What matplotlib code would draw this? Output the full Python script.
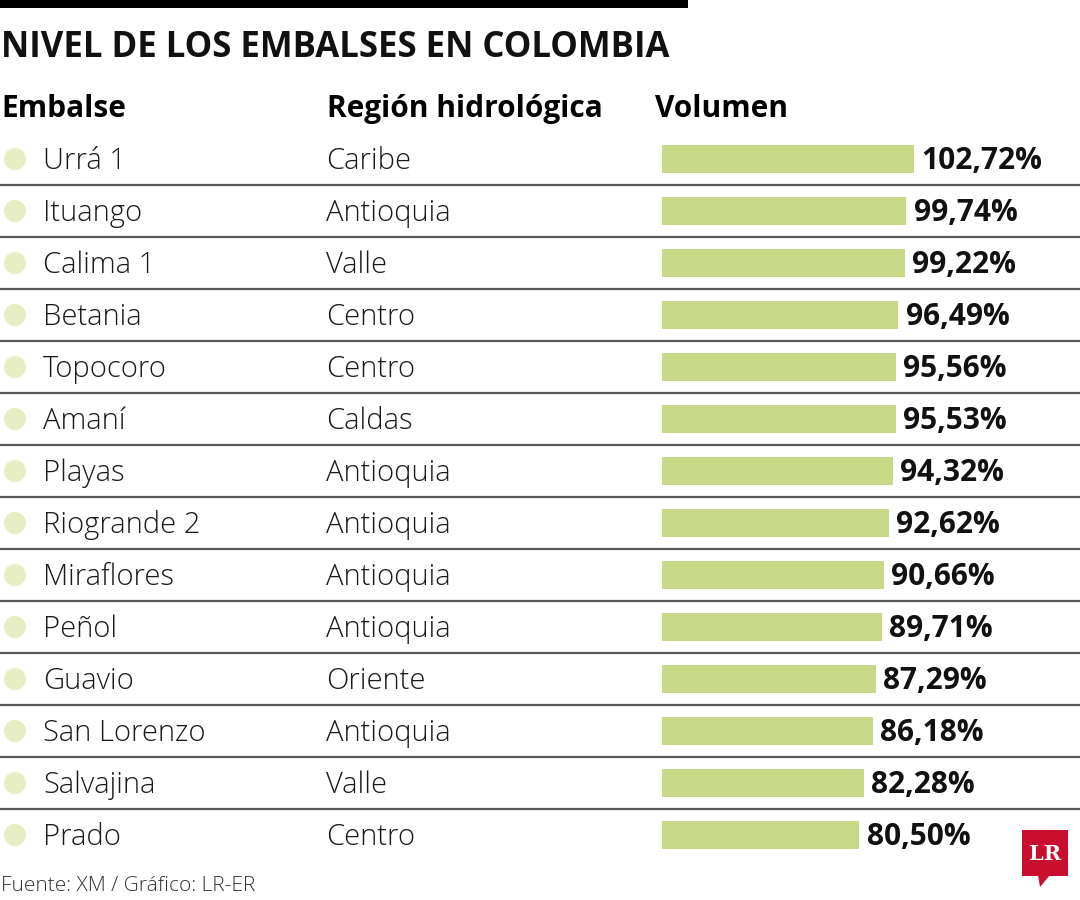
import matplotlib.pyplot as plt
from matplotlib.patches import Rectangle, Circle, Polygon

embalses = ["Urrá 1", "Ituango", "Calima 1", "Betania", "Topocoro", "Amaní", "Playas",
            "Riogrande 2", "Miraflores", "Peñol", "Guavio", "San Lorenzo", "Salvajina", "Prado"]
regiones = ["Caribe", "Antioquia", "Valle", "Centro", "Centro", "Caldas", "Antioquia",
            "Antioquia", "Antioquia", "Antioquia", "Oriente", "Antioquia", "Valle", "Centro"]
volumen = [102.72, 99.74, 99.22, 96.49, 95.56, 95.53, 94.32,
           92.62, 90.66, 89.71, 87.29, 86.18, 82.28, 80.50]

plt.rcParams['font.family'] = ['Open Sans', 'DejaVu Sans']

W, H = 1080, 900
fig = plt.figure(figsize=(W / 100, H / 100), dpi=100)
fig.patch.set_facecolor('white')

# main axes in pixel coordinates, for text and rules
ax = fig.add_axes([0, 0, 1, 1])
ax.set_xlim(0, W)
ax.set_ylim(H, 0)
ax.axis('off')

# top black rule
ax.add_patch(Rectangle((0, 0), 688, 8, color='black', lw=0))

ax.text(1, 48, "NIVEL DE LOS EMBALSES EN COLOMBIA", fontsize=25, fontweight='bold',
        va='center', ha='left', color='#111111')

hdr_y = 109
ax.text(1, hdr_y, "Embalse", fontsize=21.5, fontweight='bold', va='center')
ax.text(327, hdr_y, "Región hidrológica", fontsize=21.5, fontweight='bold', va='center')
ax.text(655, hdr_y, "Volumen", fontsize=21.5, fontweight='bold', va='center')

row0, step = 159, 52
txt_off = 2  # font line box sits a little high
for i, (name, reg) in enumerate(zip(embalses, regiones)):
    y = row0 + step * i
    ax.add_patch(Circle((15, y), 11, color='#e9edc6', lw=0))
    ax.text(43, y + txt_off, name, fontsize=21, fontweight='light', va='center', color='#1a1a1a')
    ax.text(326, y + txt_off, reg, fontsize=21, fontweight='light', va='center', color='#1a1a1a')
    if i < len(embalses) - 1:
        ax.plot([0, W], [y + 26, y + 26], color='#5a5a5a', lw=1.6, solid_capstyle='butt')

ax.text(1, 886, "Fuente: XM / Gráfico: LR-ER", fontsize=15, fontweight='light',
        va='center', color='#333333')

# LR logo
red = '#c8102e'
ax.add_patch(Rectangle((1022, 830), 46, 46, color=red, lw=0))
ax.add_patch(Polygon([[1038, 875], [1050, 875], [1040, 887]], closed=True, color=red, lw=0))
ax.text(1045, 854, "LR", fontsize=15, fontweight='bold', family='DejaVu Serif',
        color='white', ha='center', va='center')

# bar axes: x in percent, same vertical pixel scale
px_per_pct = 2.45
left = 662
bx = fig.add_axes([left / W, 0, (W - left) / W, 1])
bx.set_xlim(0, (W - left) / px_per_pct)
bx.set_ylim(H, 0)
bx.axis('off')
bx.patch.set_alpha(0)
ys = [row0 + step * i for i in range(len(volumen))]
bx.barh(ys, volumen, height=28, color='#c7d986', lw=0)
for y, v in zip(ys, volumen):
    lbl = f"{v:.2f}".replace('.', ',') + "%"
    bx.text(v + 3.0, y + txt_off, lbl, fontsize=21.5, fontweight='bold', va='center', color='#111111')

fig.savefig('out.png', dpi=100)
